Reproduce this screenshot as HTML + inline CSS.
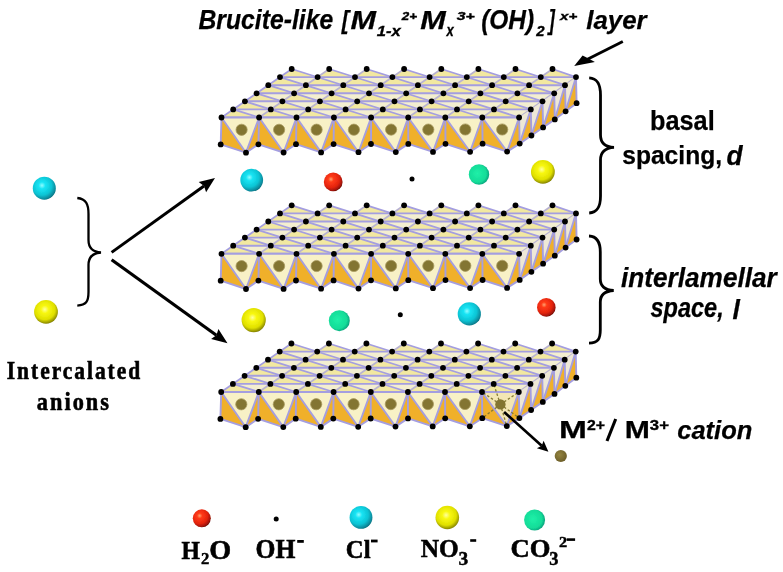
<!DOCTYPE html><html><head><meta charset="utf-8"><style>html,body{margin:0;padding:0;background:#fff;width:783px;height:572px;overflow:hidden}svg{display:block}</style></head><body><svg width="783" height="572" viewBox="0 0 783 572"><defs>
<radialGradient id="gc" cx="0.4" cy="0.38" r="0.68"><stop offset="0" stop-color="#90fcff"/><stop offset="0.22" stop-color="#18e4f4"/><stop offset="0.62" stop-color="#0cc4d4"/><stop offset="0.88" stop-color="#08889a"/><stop offset="1" stop-color="#05606c"/></radialGradient>
<radialGradient id="gr" cx="0.38" cy="0.36" r="0.68"><stop offset="0" stop-color="#ffa070"/><stop offset="0.22" stop-color="#ff3a14"/><stop offset="0.65" stop-color="#e42410"/><stop offset="0.9" stop-color="#a01408"/><stop offset="1" stop-color="#600800"/></radialGradient>
<radialGradient id="gy" cx="0.45" cy="0.4" r="0.66"><stop offset="0" stop-color="#ffffa0"/><stop offset="0.25" stop-color="#f8f810"/><stop offset="0.65" stop-color="#e0e000"/><stop offset="0.9" stop-color="#8a8800"/><stop offset="1" stop-color="#585000"/></radialGradient>
<radialGradient id="gt" cx="0.42" cy="0.45" r="0.62"><stop offset="0" stop-color="#20f0a8"/><stop offset="0.7" stop-color="#12dc98"/><stop offset="0.92" stop-color="#10a880"/><stop offset="1" stop-color="#0c8c70"/></radialGradient>
<filter id="bl" x="-5%" y="-5%" width="110%" height="110%"><feGaussianBlur stdDeviation="0.7"/></filter>
<radialGradient id="go" cx="0.4" cy="0.4" r="0.65"><stop offset="0" stop-color="#948440"/><stop offset="1" stop-color="#6a5c28"/></radialGradient>
</defs><g filter="url(#bl)"><polygon points="221.5,117.5 519.1,117.5 576.0,77.1 552.5,69.0 540.8,77.1 515.5,69.0 503.8,77.1 478.4,69.0 466.8,77.1 441.3,69.0 429.6,77.1 404.1,69.0 392.4,77.1 366.7,69.0 355.0,77.1 329.2,69.0 317.6,77.1 291.7,69.0" fill="#f2e8a0"/>
<polygon points="259.1,117.5 233.2,109.4 270.8,109.4" fill="#f3eed0"/>
<polygon points="296.5,117.5 270.8,109.4 308.2,109.4" fill="#f3eed0"/>
<polygon points="333.9,117.5 308.2,109.4 345.6,109.4" fill="#f3eed0"/>
<polygon points="371.1,117.5 345.6,109.4 382.8,109.4" fill="#f3eed0"/>
<polygon points="408.2,117.5 382.8,109.4 419.9,109.4" fill="#f3eed0"/>
<polygon points="445.3,117.5 419.9,109.4 457.0,109.4" fill="#f3eed0"/>
<polygon points="482.3,117.5 457.0,109.4 494.0,109.4" fill="#f3eed0"/>
<polygon points="519.1,117.5 494.0,109.4 530.8,109.4" fill="#f3eed0"/>
<polygon points="270.8,109.4 244.9,101.3 282.4,101.3" fill="#f3eed0"/>
<polygon points="308.2,109.4 282.4,101.3 319.9,101.3" fill="#f3eed0"/>
<polygon points="345.6,109.4 319.9,101.3 357.2,101.3" fill="#f3eed0"/>
<polygon points="382.8,109.4 357.2,101.3 394.5,101.3" fill="#f3eed0"/>
<polygon points="419.9,109.4 394.5,101.3 431.6,101.3" fill="#f3eed0"/>
<polygon points="457.0,109.4 431.6,101.3 468.7,101.3" fill="#f3eed0"/>
<polygon points="494.0,109.4 468.7,101.3 505.7,101.3" fill="#f3eed0"/>
<polygon points="530.8,109.4 505.7,101.3 542.5,101.3" fill="#f3eed0"/>
<polygon points="282.4,101.3 256.6,93.3 294.1,93.3" fill="#f3eed0"/>
<polygon points="319.9,101.3 294.1,93.3 331.6,93.3" fill="#f3eed0"/>
<polygon points="357.2,101.3 331.6,93.3 369.0,93.3" fill="#f3eed0"/>
<polygon points="394.5,101.3 369.0,93.3 406.2,93.3" fill="#f3eed0"/>
<polygon points="431.6,101.3 406.2,93.3 443.4,93.3" fill="#f3eed0"/>
<polygon points="468.7,101.3 443.4,93.3 480.4,93.3" fill="#f3eed0"/>
<polygon points="505.7,101.3 480.4,93.3 517.4,93.3" fill="#f3eed0"/>
<polygon points="542.5,101.3 517.4,93.3 554.2,93.3" fill="#f3eed0"/>
<polygon points="294.1,93.3 268.3,85.2 305.9,85.2" fill="#f3eed0"/>
<polygon points="331.6,93.3 305.9,85.2 343.3,85.2" fill="#f3eed0"/>
<polygon points="369.0,93.3 343.3,85.2 380.7,85.2" fill="#f3eed0"/>
<polygon points="406.2,93.3 380.7,85.2 417.9,85.2" fill="#f3eed0"/>
<polygon points="443.4,93.3 417.9,85.2 455.1,85.2" fill="#f3eed0"/>
<polygon points="480.4,93.3 455.1,85.2 492.1,85.2" fill="#f3eed0"/>
<polygon points="517.4,93.3 492.1,85.2 529.1,85.2" fill="#f3eed0"/>
<polygon points="554.2,93.3 529.1,85.2 565.0,85.2" fill="#f3eed0"/>
<polygon points="305.9,85.2 280.0,77.1 317.6,77.1" fill="#f3eed0"/>
<polygon points="343.3,85.2 317.6,77.1 355.0,77.1" fill="#f3eed0"/>
<polygon points="380.7,85.2 355.0,77.1 392.4,77.1" fill="#f3eed0"/>
<polygon points="417.9,85.2 392.4,77.1 429.6,77.1" fill="#f3eed0"/>
<polygon points="455.1,85.2 429.6,77.1 466.8,77.1" fill="#f3eed0"/>
<polygon points="492.1,85.2 466.8,77.1 503.8,77.1" fill="#f3eed0"/>
<polygon points="529.1,85.2 503.8,77.1 540.8,77.1" fill="#f3eed0"/>
<polygon points="565.0,85.2 540.8,77.1 576.0,77.1" fill="#f3eed0"/>
<line x1="221.5" y1="117.5" x2="291.7" y2="69.0" stroke="#a49ee0" stroke-width="1.7"/>
<line x1="259.1" y1="117.5" x2="329.2" y2="69.0" stroke="#b8b2d2" stroke-width="1.7"/>
<line x1="296.5" y1="117.5" x2="366.7" y2="69.0" stroke="#b8b2d2" stroke-width="1.7"/>
<line x1="333.9" y1="117.5" x2="404.1" y2="69.0" stroke="#b8b2d2" stroke-width="1.7"/>
<line x1="371.1" y1="117.5" x2="441.3" y2="69.0" stroke="#b8b2d2" stroke-width="1.7"/>
<line x1="408.2" y1="117.5" x2="478.4" y2="69.0" stroke="#b8b2d2" stroke-width="1.7"/>
<line x1="445.3" y1="117.5" x2="515.5" y2="69.0" stroke="#b8b2d2" stroke-width="1.7"/>
<line x1="482.3" y1="117.5" x2="552.5" y2="69.0" stroke="#b8b2d2" stroke-width="1.7"/>
<line x1="519.1" y1="117.5" x2="576.0" y2="77.1" stroke="#b8b2d2" stroke-width="1.7"/>
<line x1="233.2" y1="109.4" x2="259.1" y2="117.5" stroke="#a49ee0" stroke-width="1.8"/>
<line x1="244.9" y1="101.3" x2="296.5" y2="117.5" stroke="#a49ee0" stroke-width="1.8"/>
<line x1="256.6" y1="93.3" x2="333.9" y2="117.5" stroke="#a49ee0" stroke-width="1.8"/>
<line x1="268.3" y1="85.2" x2="371.1" y2="117.5" stroke="#a49ee0" stroke-width="1.8"/>
<line x1="280.0" y1="77.1" x2="408.2" y2="117.5" stroke="#a49ee0" stroke-width="1.8"/>
<line x1="291.7" y1="69.0" x2="445.3" y2="117.5" stroke="#a49ee0" stroke-width="1.8"/>
<line x1="329.2" y1="69.0" x2="482.3" y2="117.5" stroke="#a49ee0" stroke-width="1.8"/>
<line x1="366.7" y1="69.0" x2="519.1" y2="117.5" stroke="#a49ee0" stroke-width="1.8"/>
<line x1="404.1" y1="69.0" x2="530.8" y2="109.4" stroke="#a49ee0" stroke-width="1.8"/>
<line x1="441.3" y1="69.0" x2="542.5" y2="101.3" stroke="#a49ee0" stroke-width="1.8"/>
<line x1="478.4" y1="69.0" x2="554.2" y2="93.3" stroke="#a49ee0" stroke-width="1.8"/>
<line x1="515.5" y1="69.0" x2="565.0" y2="85.2" stroke="#a49ee0" stroke-width="1.8"/>
<line x1="552.5" y1="69.0" x2="576.0" y2="77.1" stroke="#a49ee0" stroke-width="1.8"/>
<line x1="221.5" y1="117.5" x2="519.1" y2="117.5" stroke="#a49ee0" stroke-width="1.9"/>
<line x1="233.2" y1="109.4" x2="530.8" y2="109.4" stroke="#a49ee0" stroke-width="1.9"/>
<line x1="244.9" y1="101.3" x2="542.5" y2="101.3" stroke="#a49ee0" stroke-width="1.9"/>
<line x1="256.6" y1="93.3" x2="554.2" y2="93.3" stroke="#a49ee0" stroke-width="1.9"/>
<line x1="268.3" y1="85.2" x2="565.0" y2="85.2" stroke="#a49ee0" stroke-width="1.9"/>
<line x1="280.0" y1="77.1" x2="576.0" y2="77.1" stroke="#a49ee0" stroke-width="1.9"/>
<polygon points="221.5,117.5 220.7,144.4 246.0,152.7" fill="#f0b02a"/>
<polygon points="259.1,117.5 246.0,152.7 258.4,144.3" fill="#f0b02a"/>
<polygon points="221.5,117.5 259.1,117.5 246.0,152.7" fill="#f8f1c6"/>
<circle cx="241.6" cy="129.8" r="5.6" fill="#837432" stroke="#a89a60" stroke-width="0.8"/>
<polygon points="259.1,117.5 258.4,144.3 283.6,152.5" fill="#f0b02a"/>
<polygon points="296.5,117.5 283.6,152.5 296.0,144.2" fill="#f0b02a"/>
<polygon points="259.1,117.5 296.5,117.5 283.6,152.5" fill="#f8f1c6"/>
<circle cx="279.1" cy="129.8" r="5.6" fill="#837432" stroke="#a89a60" stroke-width="0.8"/>
<polygon points="296.5,117.5 296.0,144.2 321.1,152.4" fill="#f0b02a"/>
<polygon points="333.9,117.5 321.1,152.4 333.6,144.1" fill="#f0b02a"/>
<polygon points="296.5,117.5 333.9,117.5 321.1,152.4" fill="#f8f1c6"/>
<circle cx="316.6" cy="129.7" r="5.6" fill="#837432" stroke="#a89a60" stroke-width="0.8"/>
<polygon points="333.9,117.5 333.6,144.1 358.5,152.2" fill="#f0b02a"/>
<polygon points="371.1,117.5 358.5,152.2 371.0,144.0" fill="#f0b02a"/>
<polygon points="333.9,117.5 371.1,117.5 358.5,152.2" fill="#f8f1c6"/>
<circle cx="353.9" cy="129.7" r="5.6" fill="#837432" stroke="#a89a60" stroke-width="0.8"/>
<polygon points="371.1,117.5 371.0,144.0 395.8,152.1" fill="#f0b02a"/>
<polygon points="408.2,117.5 395.8,152.1 408.3,143.9" fill="#f0b02a"/>
<polygon points="371.1,117.5 408.2,117.5 395.8,152.1" fill="#f8f1c6"/>
<circle cx="391.1" cy="129.6" r="5.6" fill="#837432" stroke="#a89a60" stroke-width="0.8"/>
<polygon points="408.2,117.5 408.3,143.9 433.0,151.9" fill="#f0b02a"/>
<polygon points="445.3,117.5 433.0,151.9 445.5,143.8" fill="#f0b02a"/>
<polygon points="408.2,117.5 445.3,117.5 433.0,151.9" fill="#f8f1c6"/>
<circle cx="428.3" cy="129.6" r="5.6" fill="#837432" stroke="#a89a60" stroke-width="0.8"/>
<polygon points="445.3,117.5 445.5,143.8 470.1,151.8" fill="#f0b02a"/>
<polygon points="482.3,117.5 470.1,151.8 482.6,143.7" fill="#f0b02a"/>
<polygon points="445.3,117.5 482.3,117.5 470.1,151.8" fill="#f8f1c6"/>
<circle cx="465.3" cy="129.5" r="5.6" fill="#837432" stroke="#a89a60" stroke-width="0.8"/>
<polygon points="482.3,117.5 482.6,143.7 507.1,151.6" fill="#f0b02a"/>
<polygon points="519.1,117.5 507.1,151.6 519.7,143.6" fill="#f0b02a"/>
<polygon points="482.3,117.5 519.1,117.5 507.1,151.6" fill="#f8f1c6"/>
<circle cx="502.2" cy="129.5" r="5.6" fill="#837432" stroke="#a89a60" stroke-width="0.8"/>
<polygon points="519.1,117.5 530.8,109.4 519.7,143.6" fill="#eee8d6"/>
<polygon points="530.8,109.4 519.7,143.6 531.4,135.5" fill="#f0b02a"/>
<polygon points="530.8,109.4 542.5,101.3 531.4,135.5" fill="#eee8d6"/>
<polygon points="542.5,101.3 531.4,135.5 543.1,127.4" fill="#f0b02a"/>
<polygon points="542.5,101.3 554.2,93.3 543.1,127.4" fill="#eee8d6"/>
<polygon points="554.2,93.3 543.1,127.4 554.8,119.4" fill="#f0b02a"/>
<polygon points="554.2,93.3 565.0,85.2 554.8,119.4" fill="#eee8d6"/>
<polygon points="565.0,85.2 554.8,119.4 565.6,111.3" fill="#f0b02a"/>
<polygon points="565.0,85.2 576.0,77.1 565.6,111.3" fill="#eee8d6"/>
<polygon points="576.0,77.1 565.6,111.3 576.6,103.2" fill="#f0b02a"/>
<line x1="221.5" y1="117.5" x2="519.1" y2="117.5" stroke="#a49ee0" stroke-width="2.0"/>
<line x1="221.5" y1="117.5" x2="220.7" y2="144.4" stroke="#a49ee0" stroke-width="1.9"/>
<line x1="259.1" y1="117.5" x2="258.4" y2="144.3" stroke="#a49ee0" stroke-width="1.9"/>
<line x1="296.5" y1="117.5" x2="296.0" y2="144.2" stroke="#a49ee0" stroke-width="1.9"/>
<line x1="333.9" y1="117.5" x2="333.6" y2="144.1" stroke="#a49ee0" stroke-width="1.9"/>
<line x1="371.1" y1="117.5" x2="371.0" y2="144.0" stroke="#a49ee0" stroke-width="1.9"/>
<line x1="408.2" y1="117.5" x2="408.3" y2="143.9" stroke="#a49ee0" stroke-width="1.9"/>
<line x1="445.3" y1="117.5" x2="445.5" y2="143.8" stroke="#a49ee0" stroke-width="1.9"/>
<line x1="482.3" y1="117.5" x2="482.6" y2="143.7" stroke="#a49ee0" stroke-width="1.9"/>
<line x1="519.1" y1="117.5" x2="519.7" y2="143.6" stroke="#a49ee0" stroke-width="1.9"/>
<line x1="221.5" y1="117.5" x2="246.0" y2="152.7" stroke="#a49ee0" stroke-width="1.9"/>
<line x1="246.0" y1="152.7" x2="259.1" y2="117.5" stroke="#a49ee0" stroke-width="1.9"/>
<line x1="220.7" y1="144.4" x2="246.0" y2="152.7" stroke="#a49ee0" stroke-width="1.9"/>
<line x1="246.0" y1="152.7" x2="258.4" y2="144.3" stroke="#a49ee0" stroke-width="1.9"/>
<line x1="259.1" y1="117.5" x2="283.6" y2="152.5" stroke="#a49ee0" stroke-width="1.9"/>
<line x1="283.6" y1="152.5" x2="296.5" y2="117.5" stroke="#a49ee0" stroke-width="1.9"/>
<line x1="258.4" y1="144.3" x2="283.6" y2="152.5" stroke="#a49ee0" stroke-width="1.9"/>
<line x1="283.6" y1="152.5" x2="296.0" y2="144.2" stroke="#a49ee0" stroke-width="1.9"/>
<line x1="296.5" y1="117.5" x2="321.1" y2="152.4" stroke="#a49ee0" stroke-width="1.9"/>
<line x1="321.1" y1="152.4" x2="333.9" y2="117.5" stroke="#a49ee0" stroke-width="1.9"/>
<line x1="296.0" y1="144.2" x2="321.1" y2="152.4" stroke="#a49ee0" stroke-width="1.9"/>
<line x1="321.1" y1="152.4" x2="333.6" y2="144.1" stroke="#a49ee0" stroke-width="1.9"/>
<line x1="333.9" y1="117.5" x2="358.5" y2="152.2" stroke="#a49ee0" stroke-width="1.9"/>
<line x1="358.5" y1="152.2" x2="371.1" y2="117.5" stroke="#a49ee0" stroke-width="1.9"/>
<line x1="333.6" y1="144.1" x2="358.5" y2="152.2" stroke="#a49ee0" stroke-width="1.9"/>
<line x1="358.5" y1="152.2" x2="371.0" y2="144.0" stroke="#a49ee0" stroke-width="1.9"/>
<line x1="371.1" y1="117.5" x2="395.8" y2="152.1" stroke="#a49ee0" stroke-width="1.9"/>
<line x1="395.8" y1="152.1" x2="408.2" y2="117.5" stroke="#a49ee0" stroke-width="1.9"/>
<line x1="371.0" y1="144.0" x2="395.8" y2="152.1" stroke="#a49ee0" stroke-width="1.9"/>
<line x1="395.8" y1="152.1" x2="408.3" y2="143.9" stroke="#a49ee0" stroke-width="1.9"/>
<line x1="408.2" y1="117.5" x2="433.0" y2="151.9" stroke="#a49ee0" stroke-width="1.9"/>
<line x1="433.0" y1="151.9" x2="445.3" y2="117.5" stroke="#a49ee0" stroke-width="1.9"/>
<line x1="408.3" y1="143.9" x2="433.0" y2="151.9" stroke="#a49ee0" stroke-width="1.9"/>
<line x1="433.0" y1="151.9" x2="445.5" y2="143.8" stroke="#a49ee0" stroke-width="1.9"/>
<line x1="445.3" y1="117.5" x2="470.1" y2="151.8" stroke="#a49ee0" stroke-width="1.9"/>
<line x1="470.1" y1="151.8" x2="482.3" y2="117.5" stroke="#a49ee0" stroke-width="1.9"/>
<line x1="445.5" y1="143.8" x2="470.1" y2="151.8" stroke="#a49ee0" stroke-width="1.9"/>
<line x1="470.1" y1="151.8" x2="482.6" y2="143.7" stroke="#a49ee0" stroke-width="1.9"/>
<line x1="482.3" y1="117.5" x2="507.1" y2="151.6" stroke="#a49ee0" stroke-width="1.9"/>
<line x1="507.1" y1="151.6" x2="519.1" y2="117.5" stroke="#a49ee0" stroke-width="1.9"/>
<line x1="482.6" y1="143.7" x2="507.1" y2="151.6" stroke="#a49ee0" stroke-width="1.9"/>
<line x1="507.1" y1="151.6" x2="519.7" y2="143.6" stroke="#a49ee0" stroke-width="1.9"/>
<line x1="530.8" y1="109.4" x2="519.7" y2="143.6" stroke="#a49ee0" stroke-width="1.9"/>
<line x1="519.7" y1="143.6" x2="531.4" y2="135.5" stroke="#a49ee0" stroke-width="1.9"/>
<line x1="530.8" y1="109.4" x2="531.4" y2="135.5" stroke="#a49ee0" stroke-width="1.9"/>
<line x1="542.5" y1="101.3" x2="531.4" y2="135.5" stroke="#a49ee0" stroke-width="1.9"/>
<line x1="531.4" y1="135.5" x2="543.1" y2="127.4" stroke="#a49ee0" stroke-width="1.9"/>
<line x1="542.5" y1="101.3" x2="543.1" y2="127.4" stroke="#a49ee0" stroke-width="1.9"/>
<line x1="554.2" y1="93.3" x2="543.1" y2="127.4" stroke="#a49ee0" stroke-width="1.9"/>
<line x1="543.1" y1="127.4" x2="554.8" y2="119.4" stroke="#a49ee0" stroke-width="1.9"/>
<line x1="554.2" y1="93.3" x2="554.8" y2="119.4" stroke="#a49ee0" stroke-width="1.9"/>
<line x1="565.0" y1="85.2" x2="554.8" y2="119.4" stroke="#a49ee0" stroke-width="1.9"/>
<line x1="554.8" y1="119.4" x2="565.6" y2="111.3" stroke="#a49ee0" stroke-width="1.9"/>
<line x1="565.0" y1="85.2" x2="565.6" y2="111.3" stroke="#a49ee0" stroke-width="1.9"/>
<line x1="576.0" y1="77.1" x2="565.6" y2="111.3" stroke="#a49ee0" stroke-width="1.9"/>
<line x1="565.6" y1="111.3" x2="576.6" y2="103.2" stroke="#a49ee0" stroke-width="1.9"/>
<line x1="576.0" y1="77.1" x2="576.6" y2="103.2" stroke="#a49ee0" stroke-width="1.9"/>
<circle cx="221.5" cy="117.5" r="2.9" fill="#000"/>
<circle cx="259.1" cy="117.5" r="2.9" fill="#000"/>
<circle cx="296.5" cy="117.5" r="2.9" fill="#000"/>
<circle cx="333.9" cy="117.5" r="2.9" fill="#000"/>
<circle cx="371.1" cy="117.5" r="2.9" fill="#000"/>
<circle cx="408.2" cy="117.5" r="2.9" fill="#000"/>
<circle cx="445.3" cy="117.5" r="2.9" fill="#000"/>
<circle cx="482.3" cy="117.5" r="2.9" fill="#000"/>
<circle cx="519.1" cy="117.5" r="2.9" fill="#000"/>
<circle cx="233.2" cy="109.4" r="2.9" fill="#000"/>
<circle cx="270.8" cy="109.4" r="2.9" fill="#000"/>
<circle cx="308.2" cy="109.4" r="2.9" fill="#000"/>
<circle cx="345.6" cy="109.4" r="2.9" fill="#000"/>
<circle cx="382.8" cy="109.4" r="2.9" fill="#000"/>
<circle cx="419.9" cy="109.4" r="2.9" fill="#000"/>
<circle cx="457.0" cy="109.4" r="2.9" fill="#000"/>
<circle cx="494.0" cy="109.4" r="2.9" fill="#000"/>
<circle cx="530.8" cy="109.4" r="2.9" fill="#000"/>
<circle cx="244.9" cy="101.3" r="2.9" fill="#000"/>
<circle cx="282.4" cy="101.3" r="2.9" fill="#000"/>
<circle cx="319.9" cy="101.3" r="2.9" fill="#000"/>
<circle cx="357.2" cy="101.3" r="2.9" fill="#000"/>
<circle cx="394.5" cy="101.3" r="2.9" fill="#000"/>
<circle cx="431.6" cy="101.3" r="2.9" fill="#000"/>
<circle cx="468.7" cy="101.3" r="2.9" fill="#000"/>
<circle cx="505.7" cy="101.3" r="2.9" fill="#000"/>
<circle cx="542.5" cy="101.3" r="2.9" fill="#000"/>
<circle cx="256.6" cy="93.3" r="2.9" fill="#000"/>
<circle cx="294.1" cy="93.3" r="2.9" fill="#000"/>
<circle cx="331.6" cy="93.3" r="2.9" fill="#000"/>
<circle cx="369.0" cy="93.3" r="2.9" fill="#000"/>
<circle cx="406.2" cy="93.3" r="2.9" fill="#000"/>
<circle cx="443.4" cy="93.3" r="2.9" fill="#000"/>
<circle cx="480.4" cy="93.3" r="2.9" fill="#000"/>
<circle cx="517.4" cy="93.3" r="2.9" fill="#000"/>
<circle cx="554.2" cy="93.3" r="2.9" fill="#000"/>
<circle cx="268.3" cy="85.2" r="2.9" fill="#000"/>
<circle cx="305.9" cy="85.2" r="2.9" fill="#000"/>
<circle cx="343.3" cy="85.2" r="2.9" fill="#000"/>
<circle cx="380.7" cy="85.2" r="2.9" fill="#000"/>
<circle cx="417.9" cy="85.2" r="2.9" fill="#000"/>
<circle cx="455.1" cy="85.2" r="2.9" fill="#000"/>
<circle cx="492.1" cy="85.2" r="2.9" fill="#000"/>
<circle cx="529.1" cy="85.2" r="2.9" fill="#000"/>
<circle cx="565.0" cy="85.2" r="2.9" fill="#000"/>
<circle cx="280.0" cy="77.1" r="2.9" fill="#000"/>
<circle cx="317.6" cy="77.1" r="2.9" fill="#000"/>
<circle cx="355.0" cy="77.1" r="2.9" fill="#000"/>
<circle cx="392.4" cy="77.1" r="2.9" fill="#000"/>
<circle cx="429.6" cy="77.1" r="2.9" fill="#000"/>
<circle cx="466.8" cy="77.1" r="2.9" fill="#000"/>
<circle cx="503.8" cy="77.1" r="2.9" fill="#000"/>
<circle cx="540.8" cy="77.1" r="2.9" fill="#000"/>
<circle cx="576.0" cy="77.1" r="2.9" fill="#000"/>
<circle cx="291.7" cy="69.0" r="2.9" fill="#000"/>
<circle cx="329.2" cy="69.0" r="2.9" fill="#000"/>
<circle cx="366.7" cy="69.0" r="2.9" fill="#000"/>
<circle cx="404.1" cy="69.0" r="2.9" fill="#000"/>
<circle cx="441.3" cy="69.0" r="2.9" fill="#000"/>
<circle cx="478.4" cy="69.0" r="2.9" fill="#000"/>
<circle cx="515.5" cy="69.0" r="2.9" fill="#000"/>
<circle cx="552.5" cy="69.0" r="2.9" fill="#000"/>
<circle cx="220.7" cy="144.4" r="2.9" fill="#000"/>
<circle cx="258.4" cy="144.3" r="2.9" fill="#000"/>
<circle cx="296.0" cy="144.2" r="2.9" fill="#000"/>
<circle cx="333.6" cy="144.1" r="2.9" fill="#000"/>
<circle cx="371.0" cy="144.0" r="2.9" fill="#000"/>
<circle cx="408.3" cy="143.9" r="2.9" fill="#000"/>
<circle cx="445.5" cy="143.8" r="2.9" fill="#000"/>
<circle cx="482.6" cy="143.7" r="2.9" fill="#000"/>
<circle cx="519.7" cy="143.6" r="2.9" fill="#000"/>
<circle cx="246.0" cy="152.7" r="2.9" fill="#000"/>
<circle cx="283.6" cy="152.5" r="2.9" fill="#000"/>
<circle cx="321.1" cy="152.4" r="2.9" fill="#000"/>
<circle cx="358.5" cy="152.2" r="2.9" fill="#000"/>
<circle cx="395.8" cy="152.1" r="2.9" fill="#000"/>
<circle cx="433.0" cy="151.9" r="2.9" fill="#000"/>
<circle cx="470.1" cy="151.8" r="2.9" fill="#000"/>
<circle cx="507.1" cy="151.6" r="2.9" fill="#000"/>
<circle cx="531.4" cy="135.5" r="2.9" fill="#000"/>
<circle cx="543.1" cy="127.4" r="2.9" fill="#000"/>
<circle cx="554.8" cy="119.4" r="2.9" fill="#000"/>
<circle cx="565.6" cy="111.3" r="2.9" fill="#000"/>
<circle cx="576.6" cy="103.2" r="2.9" fill="#000"/>
<polygon points="221.5,253.8 519.1,253.8 576.0,213.4 552.5,205.3 540.8,213.4 515.5,205.3 503.8,213.4 478.4,205.3 466.8,213.4 441.3,205.3 429.6,213.4 404.1,205.3 392.4,213.4 366.7,205.3 355.0,213.4 329.2,205.3 317.6,213.4 291.7,205.3" fill="#f2e8a0"/>
<polygon points="259.1,253.8 233.2,245.7 270.8,245.7" fill="#f3eed0"/>
<polygon points="296.5,253.8 270.8,245.7 308.2,245.7" fill="#f3eed0"/>
<polygon points="333.9,253.8 308.2,245.7 345.6,245.7" fill="#f3eed0"/>
<polygon points="371.1,253.8 345.6,245.7 382.8,245.7" fill="#f3eed0"/>
<polygon points="408.2,253.8 382.8,245.7 419.9,245.7" fill="#f3eed0"/>
<polygon points="445.3,253.8 419.9,245.7 457.0,245.7" fill="#f3eed0"/>
<polygon points="482.3,253.8 457.0,245.7 494.0,245.7" fill="#f3eed0"/>
<polygon points="519.1,253.8 494.0,245.7 530.8,245.7" fill="#f3eed0"/>
<polygon points="270.8,245.7 244.9,237.6 282.4,237.6" fill="#f3eed0"/>
<polygon points="308.2,245.7 282.4,237.6 319.9,237.6" fill="#f3eed0"/>
<polygon points="345.6,245.7 319.9,237.6 357.2,237.6" fill="#f3eed0"/>
<polygon points="382.8,245.7 357.2,237.6 394.5,237.6" fill="#f3eed0"/>
<polygon points="419.9,245.7 394.5,237.6 431.6,237.6" fill="#f3eed0"/>
<polygon points="457.0,245.7 431.6,237.6 468.7,237.6" fill="#f3eed0"/>
<polygon points="494.0,245.7 468.7,237.6 505.7,237.6" fill="#f3eed0"/>
<polygon points="530.8,245.7 505.7,237.6 542.5,237.6" fill="#f3eed0"/>
<polygon points="282.4,237.6 256.6,229.6 294.1,229.6" fill="#f3eed0"/>
<polygon points="319.9,237.6 294.1,229.6 331.6,229.6" fill="#f3eed0"/>
<polygon points="357.2,237.6 331.6,229.6 369.0,229.6" fill="#f3eed0"/>
<polygon points="394.5,237.6 369.0,229.6 406.2,229.6" fill="#f3eed0"/>
<polygon points="431.6,237.6 406.2,229.6 443.4,229.6" fill="#f3eed0"/>
<polygon points="468.7,237.6 443.4,229.6 480.4,229.6" fill="#f3eed0"/>
<polygon points="505.7,237.6 480.4,229.6 517.4,229.6" fill="#f3eed0"/>
<polygon points="542.5,237.6 517.4,229.6 554.2,229.6" fill="#f3eed0"/>
<polygon points="294.1,229.6 268.3,221.5 305.9,221.5" fill="#f3eed0"/>
<polygon points="331.6,229.6 305.9,221.5 343.3,221.5" fill="#f3eed0"/>
<polygon points="369.0,229.6 343.3,221.5 380.7,221.5" fill="#f3eed0"/>
<polygon points="406.2,229.6 380.7,221.5 417.9,221.5" fill="#f3eed0"/>
<polygon points="443.4,229.6 417.9,221.5 455.1,221.5" fill="#f3eed0"/>
<polygon points="480.4,229.6 455.1,221.5 492.1,221.5" fill="#f3eed0"/>
<polygon points="517.4,229.6 492.1,221.5 529.1,221.5" fill="#f3eed0"/>
<polygon points="554.2,229.6 529.1,221.5 565.0,221.5" fill="#f3eed0"/>
<polygon points="305.9,221.5 280.0,213.4 317.6,213.4" fill="#f3eed0"/>
<polygon points="343.3,221.5 317.6,213.4 355.0,213.4" fill="#f3eed0"/>
<polygon points="380.7,221.5 355.0,213.4 392.4,213.4" fill="#f3eed0"/>
<polygon points="417.9,221.5 392.4,213.4 429.6,213.4" fill="#f3eed0"/>
<polygon points="455.1,221.5 429.6,213.4 466.8,213.4" fill="#f3eed0"/>
<polygon points="492.1,221.5 466.8,213.4 503.8,213.4" fill="#f3eed0"/>
<polygon points="529.1,221.5 503.8,213.4 540.8,213.4" fill="#f3eed0"/>
<polygon points="565.0,221.5 540.8,213.4 576.0,213.4" fill="#f3eed0"/>
<line x1="221.5" y1="253.8" x2="291.7" y2="205.3" stroke="#a49ee0" stroke-width="1.7"/>
<line x1="259.1" y1="253.8" x2="329.2" y2="205.3" stroke="#b8b2d2" stroke-width="1.7"/>
<line x1="296.5" y1="253.8" x2="366.7" y2="205.3" stroke="#b8b2d2" stroke-width="1.7"/>
<line x1="333.9" y1="253.8" x2="404.1" y2="205.3" stroke="#b8b2d2" stroke-width="1.7"/>
<line x1="371.1" y1="253.8" x2="441.3" y2="205.3" stroke="#b8b2d2" stroke-width="1.7"/>
<line x1="408.2" y1="253.8" x2="478.4" y2="205.3" stroke="#b8b2d2" stroke-width="1.7"/>
<line x1="445.3" y1="253.8" x2="515.5" y2="205.3" stroke="#b8b2d2" stroke-width="1.7"/>
<line x1="482.3" y1="253.8" x2="552.5" y2="205.3" stroke="#b8b2d2" stroke-width="1.7"/>
<line x1="519.1" y1="253.8" x2="576.0" y2="213.4" stroke="#b8b2d2" stroke-width="1.7"/>
<line x1="233.2" y1="245.7" x2="259.1" y2="253.8" stroke="#a49ee0" stroke-width="1.8"/>
<line x1="244.9" y1="237.6" x2="296.5" y2="253.8" stroke="#a49ee0" stroke-width="1.8"/>
<line x1="256.6" y1="229.6" x2="333.9" y2="253.8" stroke="#a49ee0" stroke-width="1.8"/>
<line x1="268.3" y1="221.5" x2="371.1" y2="253.8" stroke="#a49ee0" stroke-width="1.8"/>
<line x1="280.0" y1="213.4" x2="408.2" y2="253.8" stroke="#a49ee0" stroke-width="1.8"/>
<line x1="291.7" y1="205.3" x2="445.3" y2="253.8" stroke="#a49ee0" stroke-width="1.8"/>
<line x1="329.2" y1="205.3" x2="482.3" y2="253.8" stroke="#a49ee0" stroke-width="1.8"/>
<line x1="366.7" y1="205.3" x2="519.1" y2="253.8" stroke="#a49ee0" stroke-width="1.8"/>
<line x1="404.1" y1="205.3" x2="530.8" y2="245.7" stroke="#a49ee0" stroke-width="1.8"/>
<line x1="441.3" y1="205.3" x2="542.5" y2="237.6" stroke="#a49ee0" stroke-width="1.8"/>
<line x1="478.4" y1="205.3" x2="554.2" y2="229.6" stroke="#a49ee0" stroke-width="1.8"/>
<line x1="515.5" y1="205.3" x2="565.0" y2="221.5" stroke="#a49ee0" stroke-width="1.8"/>
<line x1="552.5" y1="205.3" x2="576.0" y2="213.4" stroke="#a49ee0" stroke-width="1.8"/>
<line x1="221.5" y1="253.8" x2="519.1" y2="253.8" stroke="#a49ee0" stroke-width="1.9"/>
<line x1="233.2" y1="245.7" x2="530.8" y2="245.7" stroke="#a49ee0" stroke-width="1.9"/>
<line x1="244.9" y1="237.6" x2="542.5" y2="237.6" stroke="#a49ee0" stroke-width="1.9"/>
<line x1="256.6" y1="229.6" x2="554.2" y2="229.6" stroke="#a49ee0" stroke-width="1.9"/>
<line x1="268.3" y1="221.5" x2="565.0" y2="221.5" stroke="#a49ee0" stroke-width="1.9"/>
<line x1="280.0" y1="213.4" x2="576.0" y2="213.4" stroke="#a49ee0" stroke-width="1.9"/>
<polygon points="221.5,253.8 220.7,280.7 246.0,289.0" fill="#f0b02a"/>
<polygon points="259.1,253.8 246.0,289.0 258.4,280.6" fill="#f0b02a"/>
<polygon points="221.5,253.8 259.1,253.8 246.0,289.0" fill="#f8f1c6"/>
<circle cx="241.6" cy="266.1" r="5.6" fill="#837432" stroke="#a89a60" stroke-width="0.8"/>
<polygon points="259.1,253.8 258.4,280.6 283.6,288.9" fill="#f0b02a"/>
<polygon points="296.5,253.8 283.6,288.9 296.0,280.5" fill="#f0b02a"/>
<polygon points="259.1,253.8 296.5,253.8 283.6,288.9" fill="#f8f1c6"/>
<circle cx="279.1" cy="266.1" r="5.6" fill="#837432" stroke="#a89a60" stroke-width="0.8"/>
<polygon points="296.5,253.8 296.0,280.5 321.1,288.7" fill="#f0b02a"/>
<polygon points="333.9,253.8 321.1,288.7 333.6,280.4" fill="#f0b02a"/>
<polygon points="296.5,253.8 333.9,253.8 321.1,288.7" fill="#f8f1c6"/>
<circle cx="316.6" cy="266.0" r="5.6" fill="#837432" stroke="#a89a60" stroke-width="0.8"/>
<polygon points="333.9,253.8 333.6,280.4 358.5,288.6" fill="#f0b02a"/>
<polygon points="371.1,253.8 358.5,288.6 371.0,280.3" fill="#f0b02a"/>
<polygon points="333.9,253.8 371.1,253.8 358.5,288.6" fill="#f8f1c6"/>
<circle cx="353.9" cy="266.0" r="5.6" fill="#837432" stroke="#a89a60" stroke-width="0.8"/>
<polygon points="371.1,253.8 371.0,280.3 395.8,288.4" fill="#f0b02a"/>
<polygon points="408.2,253.8 395.8,288.4 408.3,280.2" fill="#f0b02a"/>
<polygon points="371.1,253.8 408.2,253.8 395.8,288.4" fill="#f8f1c6"/>
<circle cx="391.1" cy="265.9" r="5.6" fill="#837432" stroke="#a89a60" stroke-width="0.8"/>
<polygon points="408.2,253.8 408.3,280.2 433.0,288.2" fill="#f0b02a"/>
<polygon points="445.3,253.8 433.0,288.2 445.5,280.1" fill="#f0b02a"/>
<polygon points="408.2,253.8 445.3,253.8 433.0,288.2" fill="#f8f1c6"/>
<circle cx="428.3" cy="265.9" r="5.6" fill="#837432" stroke="#a89a60" stroke-width="0.8"/>
<polygon points="445.3,253.8 445.5,280.1 470.1,288.1" fill="#f0b02a"/>
<polygon points="482.3,253.8 470.1,288.1 482.6,280.0" fill="#f0b02a"/>
<polygon points="445.3,253.8 482.3,253.8 470.1,288.1" fill="#f8f1c6"/>
<circle cx="465.3" cy="265.8" r="5.6" fill="#837432" stroke="#a89a60" stroke-width="0.8"/>
<polygon points="482.3,253.8 482.6,280.0 507.1,287.9" fill="#f0b02a"/>
<polygon points="519.1,253.8 507.1,287.9 519.7,279.9" fill="#f0b02a"/>
<polygon points="482.3,253.8 519.1,253.8 507.1,287.9" fill="#f8f1c6"/>
<circle cx="502.2" cy="265.8" r="5.6" fill="#837432" stroke="#a89a60" stroke-width="0.8"/>
<polygon points="519.1,253.8 530.8,245.7 519.7,279.9" fill="#eee8d6"/>
<polygon points="530.8,245.7 519.7,279.9 531.4,271.8" fill="#f0b02a"/>
<polygon points="530.8,245.7 542.5,237.6 531.4,271.8" fill="#eee8d6"/>
<polygon points="542.5,237.6 531.4,271.8 543.1,263.7" fill="#f0b02a"/>
<polygon points="542.5,237.6 554.2,229.6 543.1,263.7" fill="#eee8d6"/>
<polygon points="554.2,229.6 543.1,263.7 554.8,255.7" fill="#f0b02a"/>
<polygon points="554.2,229.6 565.0,221.5 554.8,255.7" fill="#eee8d6"/>
<polygon points="565.0,221.5 554.8,255.7 565.6,247.6" fill="#f0b02a"/>
<polygon points="565.0,221.5 576.0,213.4 565.6,247.6" fill="#eee8d6"/>
<polygon points="576.0,213.4 565.6,247.6 576.6,239.5" fill="#f0b02a"/>
<line x1="221.5" y1="253.8" x2="519.1" y2="253.8" stroke="#a49ee0" stroke-width="2.0"/>
<line x1="221.5" y1="253.8" x2="220.7" y2="280.7" stroke="#a49ee0" stroke-width="1.9"/>
<line x1="259.1" y1="253.8" x2="258.4" y2="280.6" stroke="#a49ee0" stroke-width="1.9"/>
<line x1="296.5" y1="253.8" x2="296.0" y2="280.5" stroke="#a49ee0" stroke-width="1.9"/>
<line x1="333.9" y1="253.8" x2="333.6" y2="280.4" stroke="#a49ee0" stroke-width="1.9"/>
<line x1="371.1" y1="253.8" x2="371.0" y2="280.3" stroke="#a49ee0" stroke-width="1.9"/>
<line x1="408.2" y1="253.8" x2="408.3" y2="280.2" stroke="#a49ee0" stroke-width="1.9"/>
<line x1="445.3" y1="253.8" x2="445.5" y2="280.1" stroke="#a49ee0" stroke-width="1.9"/>
<line x1="482.3" y1="253.8" x2="482.6" y2="280.0" stroke="#a49ee0" stroke-width="1.9"/>
<line x1="519.1" y1="253.8" x2="519.7" y2="279.9" stroke="#a49ee0" stroke-width="1.9"/>
<line x1="221.5" y1="253.8" x2="246.0" y2="289.0" stroke="#a49ee0" stroke-width="1.9"/>
<line x1="246.0" y1="289.0" x2="259.1" y2="253.8" stroke="#a49ee0" stroke-width="1.9"/>
<line x1="220.7" y1="280.7" x2="246.0" y2="289.0" stroke="#a49ee0" stroke-width="1.9"/>
<line x1="246.0" y1="289.0" x2="258.4" y2="280.6" stroke="#a49ee0" stroke-width="1.9"/>
<line x1="259.1" y1="253.8" x2="283.6" y2="288.9" stroke="#a49ee0" stroke-width="1.9"/>
<line x1="283.6" y1="288.9" x2="296.5" y2="253.8" stroke="#a49ee0" stroke-width="1.9"/>
<line x1="258.4" y1="280.6" x2="283.6" y2="288.9" stroke="#a49ee0" stroke-width="1.9"/>
<line x1="283.6" y1="288.9" x2="296.0" y2="280.5" stroke="#a49ee0" stroke-width="1.9"/>
<line x1="296.5" y1="253.8" x2="321.1" y2="288.7" stroke="#a49ee0" stroke-width="1.9"/>
<line x1="321.1" y1="288.7" x2="333.9" y2="253.8" stroke="#a49ee0" stroke-width="1.9"/>
<line x1="296.0" y1="280.5" x2="321.1" y2="288.7" stroke="#a49ee0" stroke-width="1.9"/>
<line x1="321.1" y1="288.7" x2="333.6" y2="280.4" stroke="#a49ee0" stroke-width="1.9"/>
<line x1="333.9" y1="253.8" x2="358.5" y2="288.6" stroke="#a49ee0" stroke-width="1.9"/>
<line x1="358.5" y1="288.6" x2="371.1" y2="253.8" stroke="#a49ee0" stroke-width="1.9"/>
<line x1="333.6" y1="280.4" x2="358.5" y2="288.6" stroke="#a49ee0" stroke-width="1.9"/>
<line x1="358.5" y1="288.6" x2="371.0" y2="280.3" stroke="#a49ee0" stroke-width="1.9"/>
<line x1="371.1" y1="253.8" x2="395.8" y2="288.4" stroke="#a49ee0" stroke-width="1.9"/>
<line x1="395.8" y1="288.4" x2="408.2" y2="253.8" stroke="#a49ee0" stroke-width="1.9"/>
<line x1="371.0" y1="280.3" x2="395.8" y2="288.4" stroke="#a49ee0" stroke-width="1.9"/>
<line x1="395.8" y1="288.4" x2="408.3" y2="280.2" stroke="#a49ee0" stroke-width="1.9"/>
<line x1="408.2" y1="253.8" x2="433.0" y2="288.2" stroke="#a49ee0" stroke-width="1.9"/>
<line x1="433.0" y1="288.2" x2="445.3" y2="253.8" stroke="#a49ee0" stroke-width="1.9"/>
<line x1="408.3" y1="280.2" x2="433.0" y2="288.2" stroke="#a49ee0" stroke-width="1.9"/>
<line x1="433.0" y1="288.2" x2="445.5" y2="280.1" stroke="#a49ee0" stroke-width="1.9"/>
<line x1="445.3" y1="253.8" x2="470.1" y2="288.1" stroke="#a49ee0" stroke-width="1.9"/>
<line x1="470.1" y1="288.1" x2="482.3" y2="253.8" stroke="#a49ee0" stroke-width="1.9"/>
<line x1="445.5" y1="280.1" x2="470.1" y2="288.1" stroke="#a49ee0" stroke-width="1.9"/>
<line x1="470.1" y1="288.1" x2="482.6" y2="280.0" stroke="#a49ee0" stroke-width="1.9"/>
<line x1="482.3" y1="253.8" x2="507.1" y2="287.9" stroke="#a49ee0" stroke-width="1.9"/>
<line x1="507.1" y1="287.9" x2="519.1" y2="253.8" stroke="#a49ee0" stroke-width="1.9"/>
<line x1="482.6" y1="280.0" x2="507.1" y2="287.9" stroke="#a49ee0" stroke-width="1.9"/>
<line x1="507.1" y1="287.9" x2="519.7" y2="279.9" stroke="#a49ee0" stroke-width="1.9"/>
<line x1="530.8" y1="245.7" x2="519.7" y2="279.9" stroke="#a49ee0" stroke-width="1.9"/>
<line x1="519.7" y1="279.9" x2="531.4" y2="271.8" stroke="#a49ee0" stroke-width="1.9"/>
<line x1="530.8" y1="245.7" x2="531.4" y2="271.8" stroke="#a49ee0" stroke-width="1.9"/>
<line x1="542.5" y1="237.6" x2="531.4" y2="271.8" stroke="#a49ee0" stroke-width="1.9"/>
<line x1="531.4" y1="271.8" x2="543.1" y2="263.7" stroke="#a49ee0" stroke-width="1.9"/>
<line x1="542.5" y1="237.6" x2="543.1" y2="263.7" stroke="#a49ee0" stroke-width="1.9"/>
<line x1="554.2" y1="229.6" x2="543.1" y2="263.7" stroke="#a49ee0" stroke-width="1.9"/>
<line x1="543.1" y1="263.7" x2="554.8" y2="255.7" stroke="#a49ee0" stroke-width="1.9"/>
<line x1="554.2" y1="229.6" x2="554.8" y2="255.7" stroke="#a49ee0" stroke-width="1.9"/>
<line x1="565.0" y1="221.5" x2="554.8" y2="255.7" stroke="#a49ee0" stroke-width="1.9"/>
<line x1="554.8" y1="255.7" x2="565.6" y2="247.6" stroke="#a49ee0" stroke-width="1.9"/>
<line x1="565.0" y1="221.5" x2="565.6" y2="247.6" stroke="#a49ee0" stroke-width="1.9"/>
<line x1="576.0" y1="213.4" x2="565.6" y2="247.6" stroke="#a49ee0" stroke-width="1.9"/>
<line x1="565.6" y1="247.6" x2="576.6" y2="239.5" stroke="#a49ee0" stroke-width="1.9"/>
<line x1="576.0" y1="213.4" x2="576.6" y2="239.5" stroke="#a49ee0" stroke-width="1.9"/>
<circle cx="221.5" cy="253.8" r="2.9" fill="#000"/>
<circle cx="259.1" cy="253.8" r="2.9" fill="#000"/>
<circle cx="296.5" cy="253.8" r="2.9" fill="#000"/>
<circle cx="333.9" cy="253.8" r="2.9" fill="#000"/>
<circle cx="371.1" cy="253.8" r="2.9" fill="#000"/>
<circle cx="408.2" cy="253.8" r="2.9" fill="#000"/>
<circle cx="445.3" cy="253.8" r="2.9" fill="#000"/>
<circle cx="482.3" cy="253.8" r="2.9" fill="#000"/>
<circle cx="519.1" cy="253.8" r="2.9" fill="#000"/>
<circle cx="233.2" cy="245.7" r="2.9" fill="#000"/>
<circle cx="270.8" cy="245.7" r="2.9" fill="#000"/>
<circle cx="308.2" cy="245.7" r="2.9" fill="#000"/>
<circle cx="345.6" cy="245.7" r="2.9" fill="#000"/>
<circle cx="382.8" cy="245.7" r="2.9" fill="#000"/>
<circle cx="419.9" cy="245.7" r="2.9" fill="#000"/>
<circle cx="457.0" cy="245.7" r="2.9" fill="#000"/>
<circle cx="494.0" cy="245.7" r="2.9" fill="#000"/>
<circle cx="530.8" cy="245.7" r="2.9" fill="#000"/>
<circle cx="244.9" cy="237.6" r="2.9" fill="#000"/>
<circle cx="282.4" cy="237.6" r="2.9" fill="#000"/>
<circle cx="319.9" cy="237.6" r="2.9" fill="#000"/>
<circle cx="357.2" cy="237.6" r="2.9" fill="#000"/>
<circle cx="394.5" cy="237.6" r="2.9" fill="#000"/>
<circle cx="431.6" cy="237.6" r="2.9" fill="#000"/>
<circle cx="468.7" cy="237.6" r="2.9" fill="#000"/>
<circle cx="505.7" cy="237.6" r="2.9" fill="#000"/>
<circle cx="542.5" cy="237.6" r="2.9" fill="#000"/>
<circle cx="256.6" cy="229.6" r="2.9" fill="#000"/>
<circle cx="294.1" cy="229.6" r="2.9" fill="#000"/>
<circle cx="331.6" cy="229.6" r="2.9" fill="#000"/>
<circle cx="369.0" cy="229.6" r="2.9" fill="#000"/>
<circle cx="406.2" cy="229.6" r="2.9" fill="#000"/>
<circle cx="443.4" cy="229.6" r="2.9" fill="#000"/>
<circle cx="480.4" cy="229.6" r="2.9" fill="#000"/>
<circle cx="517.4" cy="229.6" r="2.9" fill="#000"/>
<circle cx="554.2" cy="229.6" r="2.9" fill="#000"/>
<circle cx="268.3" cy="221.5" r="2.9" fill="#000"/>
<circle cx="305.9" cy="221.5" r="2.9" fill="#000"/>
<circle cx="343.3" cy="221.5" r="2.9" fill="#000"/>
<circle cx="380.7" cy="221.5" r="2.9" fill="#000"/>
<circle cx="417.9" cy="221.5" r="2.9" fill="#000"/>
<circle cx="455.1" cy="221.5" r="2.9" fill="#000"/>
<circle cx="492.1" cy="221.5" r="2.9" fill="#000"/>
<circle cx="529.1" cy="221.5" r="2.9" fill="#000"/>
<circle cx="565.0" cy="221.5" r="2.9" fill="#000"/>
<circle cx="280.0" cy="213.4" r="2.9" fill="#000"/>
<circle cx="317.6" cy="213.4" r="2.9" fill="#000"/>
<circle cx="355.0" cy="213.4" r="2.9" fill="#000"/>
<circle cx="392.4" cy="213.4" r="2.9" fill="#000"/>
<circle cx="429.6" cy="213.4" r="2.9" fill="#000"/>
<circle cx="466.8" cy="213.4" r="2.9" fill="#000"/>
<circle cx="503.8" cy="213.4" r="2.9" fill="#000"/>
<circle cx="540.8" cy="213.4" r="2.9" fill="#000"/>
<circle cx="576.0" cy="213.4" r="2.9" fill="#000"/>
<circle cx="291.7" cy="205.3" r="2.9" fill="#000"/>
<circle cx="329.2" cy="205.3" r="2.9" fill="#000"/>
<circle cx="366.7" cy="205.3" r="2.9" fill="#000"/>
<circle cx="404.1" cy="205.3" r="2.9" fill="#000"/>
<circle cx="441.3" cy="205.3" r="2.9" fill="#000"/>
<circle cx="478.4" cy="205.3" r="2.9" fill="#000"/>
<circle cx="515.5" cy="205.3" r="2.9" fill="#000"/>
<circle cx="552.5" cy="205.3" r="2.9" fill="#000"/>
<circle cx="220.7" cy="280.7" r="2.9" fill="#000"/>
<circle cx="258.4" cy="280.6" r="2.9" fill="#000"/>
<circle cx="296.0" cy="280.5" r="2.9" fill="#000"/>
<circle cx="333.6" cy="280.4" r="2.9" fill="#000"/>
<circle cx="371.0" cy="280.3" r="2.9" fill="#000"/>
<circle cx="408.3" cy="280.2" r="2.9" fill="#000"/>
<circle cx="445.5" cy="280.1" r="2.9" fill="#000"/>
<circle cx="482.6" cy="280.0" r="2.9" fill="#000"/>
<circle cx="519.7" cy="279.9" r="2.9" fill="#000"/>
<circle cx="246.0" cy="289.0" r="2.9" fill="#000"/>
<circle cx="283.6" cy="288.9" r="2.9" fill="#000"/>
<circle cx="321.1" cy="288.7" r="2.9" fill="#000"/>
<circle cx="358.5" cy="288.6" r="2.9" fill="#000"/>
<circle cx="395.8" cy="288.4" r="2.9" fill="#000"/>
<circle cx="433.0" cy="288.2" r="2.9" fill="#000"/>
<circle cx="470.1" cy="288.1" r="2.9" fill="#000"/>
<circle cx="507.1" cy="287.9" r="2.9" fill="#000"/>
<circle cx="531.4" cy="271.8" r="2.9" fill="#000"/>
<circle cx="543.1" cy="263.7" r="2.9" fill="#000"/>
<circle cx="554.8" cy="255.7" r="2.9" fill="#000"/>
<circle cx="565.6" cy="247.6" r="2.9" fill="#000"/>
<circle cx="576.6" cy="239.5" r="2.9" fill="#000"/>
<polygon points="221.2,392.0 518.8,392.0 575.7,351.6 552.1,343.5 540.5,351.6 515.2,343.5 503.5,351.6 478.1,343.5 466.4,351.6 441.0,343.5 429.3,351.6 403.8,343.5 392.1,351.6 366.4,343.5 354.7,351.6 328.9,343.5 317.2,351.6 291.4,343.5" fill="#f2e8a0"/>
<polygon points="258.8,392.0 232.9,383.9 270.4,383.9" fill="#f3eed0"/>
<polygon points="296.2,392.0 270.4,383.9 307.9,383.9" fill="#f3eed0"/>
<polygon points="333.6,392.0 307.9,383.9 345.2,383.9" fill="#f3eed0"/>
<polygon points="370.8,392.0 345.2,383.9 382.5,383.9" fill="#f3eed0"/>
<polygon points="407.9,392.0 382.5,383.9 419.6,383.9" fill="#f3eed0"/>
<polygon points="445.0,392.0 419.6,383.9 456.7,383.9" fill="#f3eed0"/>
<polygon points="482.0,392.0 456.7,383.9 493.7,383.9" fill="#f3eed0"/>
<polygon points="518.8,392.0 493.7,383.9 530.5,383.9" fill="#f3eed0"/>
<polygon points="270.4,383.9 244.6,375.8 282.1,375.8" fill="#f3eed0"/>
<polygon points="307.9,383.9 282.1,375.8 319.6,375.8" fill="#f3eed0"/>
<polygon points="345.2,383.9 319.6,375.8 356.9,375.8" fill="#f3eed0"/>
<polygon points="382.5,383.9 356.9,375.8 394.2,375.8" fill="#f3eed0"/>
<polygon points="419.6,383.9 394.2,375.8 431.3,375.8" fill="#f3eed0"/>
<polygon points="456.7,383.9 431.3,375.8 468.4,375.8" fill="#f3eed0"/>
<polygon points="493.7,383.9 468.4,375.8 505.4,375.8" fill="#f3eed0"/>
<polygon points="530.5,383.9 505.4,375.8 542.2,375.8" fill="#f3eed0"/>
<polygon points="282.1,375.8 256.3,367.8 293.9,367.8" fill="#f3eed0"/>
<polygon points="319.6,375.8 293.9,367.8 331.3,367.8" fill="#f3eed0"/>
<polygon points="356.9,375.8 331.3,367.8 368.6,367.8" fill="#f3eed0"/>
<polygon points="394.2,375.8 368.6,367.8 405.9,367.8" fill="#f3eed0"/>
<polygon points="431.3,375.8 405.9,367.8 443.0,367.8" fill="#f3eed0"/>
<polygon points="468.4,375.8 443.0,367.8 480.1,367.8" fill="#f3eed0"/>
<polygon points="505.4,375.8 480.1,367.8 517.1,367.8" fill="#f3eed0"/>
<polygon points="542.2,375.8 517.1,367.8 553.9,367.8" fill="#f3eed0"/>
<polygon points="293.9,367.8 268.0,359.7 305.6,359.7" fill="#f3eed0"/>
<polygon points="331.3,367.8 305.6,359.7 343.0,359.7" fill="#f3eed0"/>
<polygon points="368.6,367.8 343.0,359.7 380.4,359.7" fill="#f3eed0"/>
<polygon points="405.9,367.8 380.4,359.7 417.6,359.7" fill="#f3eed0"/>
<polygon points="443.0,367.8 417.6,359.7 454.8,359.7" fill="#f3eed0"/>
<polygon points="480.1,367.8 454.8,359.7 491.8,359.7" fill="#f3eed0"/>
<polygon points="517.1,367.8 491.8,359.7 528.8,359.7" fill="#f3eed0"/>
<polygon points="553.9,367.8 528.8,359.7 564.7,359.7" fill="#f3eed0"/>
<polygon points="305.6,359.7 279.7,351.6 317.2,351.6" fill="#f3eed0"/>
<polygon points="343.0,359.7 317.2,351.6 354.7,351.6" fill="#f3eed0"/>
<polygon points="380.4,359.7 354.7,351.6 392.1,351.6" fill="#f3eed0"/>
<polygon points="417.6,359.7 392.1,351.6 429.3,351.6" fill="#f3eed0"/>
<polygon points="454.8,359.7 429.3,351.6 466.4,351.6" fill="#f3eed0"/>
<polygon points="491.8,359.7 466.4,351.6 503.5,351.6" fill="#f3eed0"/>
<polygon points="528.8,359.7 503.5,351.6 540.5,351.6" fill="#f3eed0"/>
<polygon points="564.7,359.7 540.5,351.6 575.7,351.6" fill="#f3eed0"/>
<line x1="221.2" y1="392.0" x2="291.4" y2="343.5" stroke="#a49ee0" stroke-width="1.7"/>
<line x1="258.8" y1="392.0" x2="328.9" y2="343.5" stroke="#b8b2d2" stroke-width="1.7"/>
<line x1="296.2" y1="392.0" x2="366.4" y2="343.5" stroke="#b8b2d2" stroke-width="1.7"/>
<line x1="333.6" y1="392.0" x2="403.8" y2="343.5" stroke="#b8b2d2" stroke-width="1.7"/>
<line x1="370.8" y1="392.0" x2="441.0" y2="343.5" stroke="#b8b2d2" stroke-width="1.7"/>
<line x1="407.9" y1="392.0" x2="478.1" y2="343.5" stroke="#b8b2d2" stroke-width="1.7"/>
<line x1="445.0" y1="392.0" x2="515.2" y2="343.5" stroke="#b8b2d2" stroke-width="1.7"/>
<line x1="482.0" y1="392.0" x2="552.1" y2="343.5" stroke="#b8b2d2" stroke-width="1.7"/>
<line x1="518.8" y1="392.0" x2="575.7" y2="351.6" stroke="#b8b2d2" stroke-width="1.7"/>
<line x1="232.9" y1="383.9" x2="258.8" y2="392.0" stroke="#a49ee0" stroke-width="1.8"/>
<line x1="244.6" y1="375.8" x2="296.2" y2="392.0" stroke="#a49ee0" stroke-width="1.8"/>
<line x1="256.3" y1="367.8" x2="333.6" y2="392.0" stroke="#a49ee0" stroke-width="1.8"/>
<line x1="268.0" y1="359.7" x2="370.8" y2="392.0" stroke="#a49ee0" stroke-width="1.8"/>
<line x1="279.7" y1="351.6" x2="407.9" y2="392.0" stroke="#a49ee0" stroke-width="1.8"/>
<line x1="291.4" y1="343.5" x2="445.0" y2="392.0" stroke="#a49ee0" stroke-width="1.8"/>
<line x1="328.9" y1="343.5" x2="482.0" y2="392.0" stroke="#a49ee0" stroke-width="1.8"/>
<line x1="366.4" y1="343.5" x2="518.8" y2="392.0" stroke="#a49ee0" stroke-width="1.8"/>
<line x1="403.8" y1="343.5" x2="530.5" y2="383.9" stroke="#a49ee0" stroke-width="1.8"/>
<line x1="441.0" y1="343.5" x2="542.2" y2="375.8" stroke="#a49ee0" stroke-width="1.8"/>
<line x1="478.1" y1="343.5" x2="553.9" y2="367.8" stroke="#a49ee0" stroke-width="1.8"/>
<line x1="515.2" y1="343.5" x2="564.7" y2="359.7" stroke="#a49ee0" stroke-width="1.8"/>
<line x1="552.1" y1="343.5" x2="575.7" y2="351.6" stroke="#a49ee0" stroke-width="1.8"/>
<line x1="221.2" y1="392.0" x2="518.8" y2="392.0" stroke="#a49ee0" stroke-width="1.9"/>
<line x1="232.9" y1="383.9" x2="530.5" y2="383.9" stroke="#a49ee0" stroke-width="1.9"/>
<line x1="244.6" y1="375.8" x2="542.2" y2="375.8" stroke="#a49ee0" stroke-width="1.9"/>
<line x1="256.3" y1="367.8" x2="553.9" y2="367.8" stroke="#a49ee0" stroke-width="1.9"/>
<line x1="268.0" y1="359.7" x2="564.7" y2="359.7" stroke="#a49ee0" stroke-width="1.9"/>
<line x1="279.7" y1="351.6" x2="575.7" y2="351.6" stroke="#a49ee0" stroke-width="1.9"/>
<polygon points="221.2,392.0 220.4,418.9 245.7,427.2" fill="#f0b02a"/>
<polygon points="258.8,392.0 245.7,427.2 258.1,418.8" fill="#f0b02a"/>
<polygon points="221.2,392.0 258.8,392.0 245.7,427.2" fill="#f8f1c6"/>
<circle cx="241.3" cy="404.3" r="5.6" fill="#837432" stroke="#a89a60" stroke-width="0.8"/>
<polygon points="258.8,392.0 258.1,418.8 283.3,427.1" fill="#f0b02a"/>
<polygon points="296.2,392.0 283.3,427.1 295.7,418.7" fill="#f0b02a"/>
<polygon points="258.8,392.0 296.2,392.0 283.3,427.1" fill="#f8f1c6"/>
<circle cx="278.8" cy="404.3" r="5.6" fill="#837432" stroke="#a89a60" stroke-width="0.8"/>
<polygon points="296.2,392.0 295.7,418.7 320.8,426.9" fill="#f0b02a"/>
<polygon points="333.6,392.0 320.8,426.9 333.3,418.6" fill="#f0b02a"/>
<polygon points="296.2,392.0 333.6,392.0 320.8,426.9" fill="#f8f1c6"/>
<circle cx="316.2" cy="404.2" r="5.6" fill="#837432" stroke="#a89a60" stroke-width="0.8"/>
<polygon points="333.6,392.0 333.3,418.6 358.2,426.8" fill="#f0b02a"/>
<polygon points="370.8,392.0 358.2,426.8 370.7,418.5" fill="#f0b02a"/>
<polygon points="333.6,392.0 370.8,392.0 358.2,426.8" fill="#f8f1c6"/>
<circle cx="353.6" cy="404.2" r="5.6" fill="#837432" stroke="#a89a60" stroke-width="0.8"/>
<polygon points="370.8,392.0 370.7,418.5 395.5,426.6" fill="#f0b02a"/>
<polygon points="407.9,392.0 395.5,426.6 408.0,418.4" fill="#f0b02a"/>
<polygon points="370.8,392.0 407.9,392.0 395.5,426.6" fill="#f8f1c6"/>
<circle cx="390.8" cy="404.1" r="5.6" fill="#837432" stroke="#a89a60" stroke-width="0.8"/>
<polygon points="407.9,392.0 408.0,418.4 432.7,426.4" fill="#f0b02a"/>
<polygon points="445.0,392.0 432.7,426.4 445.2,418.3" fill="#f0b02a"/>
<polygon points="407.9,392.0 445.0,392.0 432.7,426.4" fill="#f8f1c6"/>
<circle cx="427.9" cy="404.1" r="5.6" fill="#837432" stroke="#a89a60" stroke-width="0.8"/>
<polygon points="445.0,392.0 445.2,418.3 469.8,426.3" fill="#f0b02a"/>
<polygon points="482.0,392.0 469.8,426.3 482.3,418.2" fill="#f0b02a"/>
<polygon points="445.0,392.0 482.0,392.0 469.8,426.3" fill="#f8f1c6"/>
<circle cx="465.0" cy="404.0" r="5.6" fill="#837432" stroke="#a89a60" stroke-width="0.8"/>
<polygon points="482.0,392.0 482.3,418.2 506.8,426.1" fill="#f0b02a"/>
<polygon points="518.8,392.0 506.8,426.1 519.4,418.1" fill="#f0b02a"/>
<polygon points="482.0,392.0 518.8,392.0 506.8,426.1" fill="#f3e6b4"/>
<polygon points="518.8,392.0 530.5,383.9 519.4,418.1" fill="#eee8d6"/>
<polygon points="530.5,383.9 519.4,418.1 531.1,410.0" fill="#f0b02a"/>
<polygon points="530.5,383.9 542.2,375.8 531.1,410.0" fill="#eee8d6"/>
<polygon points="542.2,375.8 531.1,410.0 542.8,401.9" fill="#f0b02a"/>
<polygon points="542.2,375.8 553.9,367.8 542.8,401.9" fill="#eee8d6"/>
<polygon points="553.9,367.8 542.8,401.9 554.5,393.9" fill="#f0b02a"/>
<polygon points="553.9,367.8 564.7,359.7 554.5,393.9" fill="#eee8d6"/>
<polygon points="564.7,359.7 554.5,393.9 565.3,385.8" fill="#f0b02a"/>
<polygon points="564.7,359.7 575.7,351.6 565.3,385.8" fill="#eee8d6"/>
<polygon points="575.7,351.6 565.3,385.8 576.3,377.7" fill="#f0b02a"/>
<line x1="221.2" y1="392.0" x2="518.8" y2="392.0" stroke="#a49ee0" stroke-width="2.0"/>
<line x1="221.2" y1="392.0" x2="220.4" y2="418.9" stroke="#a49ee0" stroke-width="1.9"/>
<line x1="258.8" y1="392.0" x2="258.1" y2="418.8" stroke="#a49ee0" stroke-width="1.9"/>
<line x1="296.2" y1="392.0" x2="295.7" y2="418.7" stroke="#a49ee0" stroke-width="1.9"/>
<line x1="333.6" y1="392.0" x2="333.3" y2="418.6" stroke="#a49ee0" stroke-width="1.9"/>
<line x1="370.8" y1="392.0" x2="370.7" y2="418.5" stroke="#a49ee0" stroke-width="1.9"/>
<line x1="407.9" y1="392.0" x2="408.0" y2="418.4" stroke="#a49ee0" stroke-width="1.9"/>
<line x1="445.0" y1="392.0" x2="445.2" y2="418.3" stroke="#a49ee0" stroke-width="1.9"/>
<line x1="482.0" y1="392.0" x2="482.3" y2="418.2" stroke="#a49ee0" stroke-width="1.9"/>
<line x1="518.8" y1="392.0" x2="519.4" y2="418.1" stroke="#a49ee0" stroke-width="1.9"/>
<line x1="221.2" y1="392.0" x2="245.7" y2="427.2" stroke="#a49ee0" stroke-width="1.9"/>
<line x1="245.7" y1="427.2" x2="258.8" y2="392.0" stroke="#a49ee0" stroke-width="1.9"/>
<line x1="220.4" y1="418.9" x2="245.7" y2="427.2" stroke="#a49ee0" stroke-width="1.9"/>
<line x1="245.7" y1="427.2" x2="258.1" y2="418.8" stroke="#a49ee0" stroke-width="1.9"/>
<line x1="258.8" y1="392.0" x2="283.3" y2="427.1" stroke="#a49ee0" stroke-width="1.9"/>
<line x1="283.3" y1="427.1" x2="296.2" y2="392.0" stroke="#a49ee0" stroke-width="1.9"/>
<line x1="258.1" y1="418.8" x2="283.3" y2="427.1" stroke="#a49ee0" stroke-width="1.9"/>
<line x1="283.3" y1="427.1" x2="295.7" y2="418.7" stroke="#a49ee0" stroke-width="1.9"/>
<line x1="296.2" y1="392.0" x2="320.8" y2="426.9" stroke="#a49ee0" stroke-width="1.9"/>
<line x1="320.8" y1="426.9" x2="333.6" y2="392.0" stroke="#a49ee0" stroke-width="1.9"/>
<line x1="295.7" y1="418.7" x2="320.8" y2="426.9" stroke="#a49ee0" stroke-width="1.9"/>
<line x1="320.8" y1="426.9" x2="333.3" y2="418.6" stroke="#a49ee0" stroke-width="1.9"/>
<line x1="333.6" y1="392.0" x2="358.2" y2="426.8" stroke="#a49ee0" stroke-width="1.9"/>
<line x1="358.2" y1="426.8" x2="370.8" y2="392.0" stroke="#a49ee0" stroke-width="1.9"/>
<line x1="333.3" y1="418.6" x2="358.2" y2="426.8" stroke="#a49ee0" stroke-width="1.9"/>
<line x1="358.2" y1="426.8" x2="370.7" y2="418.5" stroke="#a49ee0" stroke-width="1.9"/>
<line x1="370.8" y1="392.0" x2="395.5" y2="426.6" stroke="#a49ee0" stroke-width="1.9"/>
<line x1="395.5" y1="426.6" x2="407.9" y2="392.0" stroke="#a49ee0" stroke-width="1.9"/>
<line x1="370.7" y1="418.5" x2="395.5" y2="426.6" stroke="#a49ee0" stroke-width="1.9"/>
<line x1="395.5" y1="426.6" x2="408.0" y2="418.4" stroke="#a49ee0" stroke-width="1.9"/>
<line x1="407.9" y1="392.0" x2="432.7" y2="426.4" stroke="#a49ee0" stroke-width="1.9"/>
<line x1="432.7" y1="426.4" x2="445.0" y2="392.0" stroke="#a49ee0" stroke-width="1.9"/>
<line x1="408.0" y1="418.4" x2="432.7" y2="426.4" stroke="#a49ee0" stroke-width="1.9"/>
<line x1="432.7" y1="426.4" x2="445.2" y2="418.3" stroke="#a49ee0" stroke-width="1.9"/>
<line x1="445.0" y1="392.0" x2="469.8" y2="426.3" stroke="#a49ee0" stroke-width="1.9"/>
<line x1="469.8" y1="426.3" x2="482.0" y2="392.0" stroke="#a49ee0" stroke-width="1.9"/>
<line x1="445.2" y1="418.3" x2="469.8" y2="426.3" stroke="#a49ee0" stroke-width="1.9"/>
<line x1="469.8" y1="426.3" x2="482.3" y2="418.2" stroke="#a49ee0" stroke-width="1.9"/>
<line x1="482.0" y1="392.0" x2="506.8" y2="426.1" stroke="#a49ee0" stroke-width="1.9"/>
<line x1="506.8" y1="426.1" x2="518.8" y2="392.0" stroke="#a49ee0" stroke-width="1.9"/>
<line x1="482.3" y1="418.2" x2="506.8" y2="426.1" stroke="#a49ee0" stroke-width="1.9"/>
<line x1="506.8" y1="426.1" x2="519.4" y2="418.1" stroke="#a49ee0" stroke-width="1.9"/>
<line x1="530.5" y1="383.9" x2="519.4" y2="418.1" stroke="#a49ee0" stroke-width="1.9"/>
<line x1="519.4" y1="418.1" x2="531.1" y2="410.0" stroke="#a49ee0" stroke-width="1.9"/>
<line x1="530.5" y1="383.9" x2="531.1" y2="410.0" stroke="#a49ee0" stroke-width="1.9"/>
<line x1="542.2" y1="375.8" x2="531.1" y2="410.0" stroke="#a49ee0" stroke-width="1.9"/>
<line x1="531.1" y1="410.0" x2="542.8" y2="401.9" stroke="#a49ee0" stroke-width="1.9"/>
<line x1="542.2" y1="375.8" x2="542.8" y2="401.9" stroke="#a49ee0" stroke-width="1.9"/>
<line x1="553.9" y1="367.8" x2="542.8" y2="401.9" stroke="#a49ee0" stroke-width="1.9"/>
<line x1="542.8" y1="401.9" x2="554.5" y2="393.9" stroke="#a49ee0" stroke-width="1.9"/>
<line x1="553.9" y1="367.8" x2="554.5" y2="393.9" stroke="#a49ee0" stroke-width="1.9"/>
<line x1="564.7" y1="359.7" x2="554.5" y2="393.9" stroke="#a49ee0" stroke-width="1.9"/>
<line x1="554.5" y1="393.9" x2="565.3" y2="385.8" stroke="#a49ee0" stroke-width="1.9"/>
<line x1="564.7" y1="359.7" x2="565.3" y2="385.8" stroke="#a49ee0" stroke-width="1.9"/>
<line x1="575.7" y1="351.6" x2="565.3" y2="385.8" stroke="#a49ee0" stroke-width="1.9"/>
<line x1="565.3" y1="385.8" x2="576.3" y2="377.7" stroke="#a49ee0" stroke-width="1.9"/>
<line x1="575.7" y1="351.6" x2="576.3" y2="377.7" stroke="#a49ee0" stroke-width="1.9"/>
<line x1="500.4" y1="404.4" x2="482.0" y2="392.0" stroke="#857a34" stroke-width="1.3" stroke-dasharray="2.5,2"/>
<line x1="500.4" y1="404.4" x2="518.8" y2="392.0" stroke="#857a34" stroke-width="1.3" stroke-dasharray="2.5,2"/>
<line x1="500.4" y1="404.4" x2="493.7" y2="383.9" stroke="#857a34" stroke-width="1.3" stroke-dasharray="2.5,2"/>
<line x1="500.4" y1="404.4" x2="482.3" y2="418.2" stroke="#857a34" stroke-width="1.3" stroke-dasharray="2.5,2"/>
<line x1="500.4" y1="404.4" x2="519.4" y2="418.1" stroke="#857a34" stroke-width="1.3" stroke-dasharray="2.5,2"/>
<line x1="500.4" y1="404.4" x2="506.8" y2="426.1" stroke="#857a34" stroke-width="1.3" stroke-dasharray="2.5,2"/>
<circle cx="500.4" cy="404.4" r="5.2" fill="#837432"/>
<circle cx="221.2" cy="392.0" r="2.9" fill="#000"/>
<circle cx="258.8" cy="392.0" r="2.9" fill="#000"/>
<circle cx="296.2" cy="392.0" r="2.9" fill="#000"/>
<circle cx="333.6" cy="392.0" r="2.9" fill="#000"/>
<circle cx="370.8" cy="392.0" r="2.9" fill="#000"/>
<circle cx="407.9" cy="392.0" r="2.9" fill="#000"/>
<circle cx="445.0" cy="392.0" r="2.9" fill="#000"/>
<circle cx="482.0" cy="392.0" r="2.9" fill="#000"/>
<circle cx="518.8" cy="392.0" r="2.9" fill="#000"/>
<circle cx="232.9" cy="383.9" r="2.9" fill="#000"/>
<circle cx="270.4" cy="383.9" r="2.9" fill="#000"/>
<circle cx="307.9" cy="383.9" r="2.9" fill="#000"/>
<circle cx="345.2" cy="383.9" r="2.9" fill="#000"/>
<circle cx="382.5" cy="383.9" r="2.9" fill="#000"/>
<circle cx="419.6" cy="383.9" r="2.9" fill="#000"/>
<circle cx="456.7" cy="383.9" r="2.9" fill="#000"/>
<circle cx="493.7" cy="383.9" r="2.9" fill="#000"/>
<circle cx="530.5" cy="383.9" r="2.9" fill="#000"/>
<circle cx="244.6" cy="375.8" r="2.9" fill="#000"/>
<circle cx="282.1" cy="375.8" r="2.9" fill="#000"/>
<circle cx="319.6" cy="375.8" r="2.9" fill="#000"/>
<circle cx="356.9" cy="375.8" r="2.9" fill="#000"/>
<circle cx="394.2" cy="375.8" r="2.9" fill="#000"/>
<circle cx="431.3" cy="375.8" r="2.9" fill="#000"/>
<circle cx="468.4" cy="375.8" r="2.9" fill="#000"/>
<circle cx="505.4" cy="375.8" r="2.9" fill="#000"/>
<circle cx="542.2" cy="375.8" r="2.9" fill="#000"/>
<circle cx="256.3" cy="367.8" r="2.9" fill="#000"/>
<circle cx="293.9" cy="367.8" r="2.9" fill="#000"/>
<circle cx="331.3" cy="367.8" r="2.9" fill="#000"/>
<circle cx="368.6" cy="367.8" r="2.9" fill="#000"/>
<circle cx="405.9" cy="367.8" r="2.9" fill="#000"/>
<circle cx="443.0" cy="367.8" r="2.9" fill="#000"/>
<circle cx="480.1" cy="367.8" r="2.9" fill="#000"/>
<circle cx="517.1" cy="367.8" r="2.9" fill="#000"/>
<circle cx="553.9" cy="367.8" r="2.9" fill="#000"/>
<circle cx="268.0" cy="359.7" r="2.9" fill="#000"/>
<circle cx="305.6" cy="359.7" r="2.9" fill="#000"/>
<circle cx="343.0" cy="359.7" r="2.9" fill="#000"/>
<circle cx="380.4" cy="359.7" r="2.9" fill="#000"/>
<circle cx="417.6" cy="359.7" r="2.9" fill="#000"/>
<circle cx="454.8" cy="359.7" r="2.9" fill="#000"/>
<circle cx="491.8" cy="359.7" r="2.9" fill="#000"/>
<circle cx="528.8" cy="359.7" r="2.9" fill="#000"/>
<circle cx="564.7" cy="359.7" r="2.9" fill="#000"/>
<circle cx="279.7" cy="351.6" r="2.9" fill="#000"/>
<circle cx="317.2" cy="351.6" r="2.9" fill="#000"/>
<circle cx="354.7" cy="351.6" r="2.9" fill="#000"/>
<circle cx="392.1" cy="351.6" r="2.9" fill="#000"/>
<circle cx="429.3" cy="351.6" r="2.9" fill="#000"/>
<circle cx="466.4" cy="351.6" r="2.9" fill="#000"/>
<circle cx="503.5" cy="351.6" r="2.9" fill="#000"/>
<circle cx="540.5" cy="351.6" r="2.9" fill="#000"/>
<circle cx="575.7" cy="351.6" r="2.9" fill="#000"/>
<circle cx="291.4" cy="343.5" r="2.9" fill="#000"/>
<circle cx="328.9" cy="343.5" r="2.9" fill="#000"/>
<circle cx="366.4" cy="343.5" r="2.9" fill="#000"/>
<circle cx="403.8" cy="343.5" r="2.9" fill="#000"/>
<circle cx="441.0" cy="343.5" r="2.9" fill="#000"/>
<circle cx="478.1" cy="343.5" r="2.9" fill="#000"/>
<circle cx="515.2" cy="343.5" r="2.9" fill="#000"/>
<circle cx="552.1" cy="343.5" r="2.9" fill="#000"/>
<circle cx="220.4" cy="418.9" r="2.9" fill="#000"/>
<circle cx="258.1" cy="418.8" r="2.9" fill="#000"/>
<circle cx="295.7" cy="418.7" r="2.9" fill="#000"/>
<circle cx="333.3" cy="418.6" r="2.9" fill="#000"/>
<circle cx="370.7" cy="418.5" r="2.9" fill="#000"/>
<circle cx="408.0" cy="418.4" r="2.9" fill="#000"/>
<circle cx="445.2" cy="418.3" r="2.9" fill="#000"/>
<circle cx="482.3" cy="418.2" r="2.9" fill="#000"/>
<circle cx="519.4" cy="418.1" r="2.9" fill="#000"/>
<circle cx="245.7" cy="427.2" r="2.9" fill="#000"/>
<circle cx="283.3" cy="427.1" r="2.9" fill="#000"/>
<circle cx="320.8" cy="426.9" r="2.9" fill="#000"/>
<circle cx="358.2" cy="426.8" r="2.9" fill="#000"/>
<circle cx="395.5" cy="426.6" r="2.9" fill="#000"/>
<circle cx="432.7" cy="426.4" r="2.9" fill="#000"/>
<circle cx="469.8" cy="426.3" r="2.9" fill="#000"/>
<circle cx="506.8" cy="426.1" r="2.9" fill="#000"/>
<circle cx="531.1" cy="410.0" r="2.9" fill="#000"/>
<circle cx="542.8" cy="401.9" r="2.9" fill="#000"/>
<circle cx="554.5" cy="393.9" r="2.9" fill="#000"/>
<circle cx="565.3" cy="385.8" r="2.9" fill="#000"/>
<circle cx="576.3" cy="377.7" r="2.9" fill="#000"/>
<circle cx="251.7" cy="180.1" r="11.4" fill="url(#gc)"/>
<circle cx="333.2" cy="181.9" r="9.4" fill="url(#gr)"/>
<circle cx="412" cy="178.9" r="2.5" fill="#000"/>
<circle cx="479" cy="174.5" r="10.2" fill="url(#gt)"/>
<circle cx="542.9" cy="171.8" r="11.9" fill="url(#gy)"/>
<circle cx="253.7" cy="320.1" r="12.1" fill="url(#gy)"/>
<circle cx="339.3" cy="320.7" r="10.5" fill="url(#gt)"/>
<circle cx="400.3" cy="314.8" r="2.5" fill="#000"/>
<circle cx="469.3" cy="313.9" r="11.6" fill="url(#gc)"/>
<circle cx="546.3" cy="307.4" r="9.3" fill="url(#gr)"/>
<circle cx="44.3" cy="188.2" r="11.5" fill="url(#gc)"/>
<circle cx="46" cy="311.8" r="11.9" fill="url(#gy)"/>
<circle cx="201.8" cy="518.3" r="9.0" fill="url(#gr)"/>
<circle cx="276.2" cy="519.1" r="2.5" fill="#000"/>
<circle cx="361" cy="517.4" r="11.4" fill="url(#gc)"/>
<circle cx="447.3" cy="517.5" r="11.8" fill="url(#gy)"/>
<circle cx="534.6" cy="520" r="10.5" fill="url(#gt)"/>
<circle cx="560.8" cy="456" r="6.1" fill="url(#go)"/>
<path d="M77.3,198 C86,199 88.5,204 88.5,214 L88.5,240 C88.5,248 93,252 101,252.5 C93,253 88.5,257 88.5,265 L88.5,292 C88.5,302 86,305 77.3,305.7" fill="none" stroke="#000" stroke-width="2.3"/>
<path d="M589.2,77.9 C598,78.5 600.5,85 600.5,95 L600.5,135 C600.5,143 605,147 614,147.4 C605,148 600.5,152 600.5,160 L600.5,196 C600.5,206 598,212.5 589.2,213" fill="none" stroke="#000" stroke-width="2.8"/>
<path d="M589,236 C598,236.5 600.3,243 600.3,252 L600.3,279 C600.3,286 605,290 613.7,290.5 C605,291 600.3,295 600.3,302 L600.3,330 C600.3,339 598,343 589,343.2" fill="none" stroke="#000" stroke-width="2.8"/>
<line x1="111.6" y1="252.4" x2="204.0" y2="186.0" stroke="#000" stroke-width="3.0"/><polygon points="215.0,178.1 206.1,192.3 204.0,186.0 198.7,182.0" fill="#000"/>
<line x1="111.6" y1="259.7" x2="216.4" y2="335.2" stroke="#000" stroke-width="3.2"/><polygon points="227.5,343.2 211.1,339.1 216.4,335.2 218.4,329.0" fill="#000"/>
<line x1="622.8" y1="41.5" x2="586" y2="60" stroke="#000" stroke-width="2.9"/>
<polygon points="574.2,66 582.6,55.4 588.5,58.5 594.9,62.1" fill="#000"/>
<line x1="504.1" y1="412.0" x2="541.7" y2="445.8" stroke="#000" stroke-width="2.7"/><polygon points="548.4,451.8 536.9,448.2 541.7,445.8 543.6,440.7" fill="#000"/>
<text x="198.40" y="28.90" font-family="Liberation Sans, sans-serif" font-size="26.83" font-weight="bold" font-style="italic" textLength="134.77" lengthAdjust="spacingAndGlyphs" stroke="#000" stroke-width="0.25">Brucite-like</text>
<text x="341.80" y="28.50" font-family="Liberation Sans, sans-serif" font-size="26.30" font-weight="bold" font-style="italic" textLength="7.22" lengthAdjust="spacingAndGlyphs" stroke="#000" stroke-width="0.25">[</text>
<text x="350.60" y="28.50" font-family="Liberation Sans, sans-serif" font-size="25.02" font-weight="bold" font-style="italic" textLength="25.45" lengthAdjust="spacingAndGlyphs" stroke="#000" stroke-width="0.25">M</text>
<text x="376.80" y="36.10" font-family="Liberation Sans, sans-serif" font-size="14.44" font-weight="bold" font-style="italic" textLength="24.00" lengthAdjust="spacingAndGlyphs" stroke="#000" stroke-width="0.35">1-x</text>
<text x="401.80" y="20.10" font-family="Liberation Sans, sans-serif" font-size="10.77" font-weight="bold" font-style="italic" textLength="15.30" lengthAdjust="spacingAndGlyphs" stroke="#000" stroke-width="0.35">2+</text>
<text x="420.20" y="28.50" font-family="Liberation Sans, sans-serif" font-size="25.02" font-weight="bold" font-style="italic" textLength="25.46" lengthAdjust="spacingAndGlyphs" stroke="#000" stroke-width="0.25">M</text>
<text x="446.60" y="36.10" font-family="Liberation Sans, sans-serif" font-size="16.00" font-weight="bold" font-style="italic" textLength="7.19" lengthAdjust="spacingAndGlyphs" stroke="#000" stroke-width="0.35">x</text>
<text x="456.80" y="20.10" font-family="Liberation Sans, sans-serif" font-size="10.77" font-weight="bold" font-style="italic" textLength="17.90" lengthAdjust="spacingAndGlyphs" stroke="#000" stroke-width="0.35">3+</text>
<text x="481.20" y="28.90" font-family="Liberation Sans, sans-serif" font-size="27.04" font-weight="bold" font-style="italic" textLength="53.02" lengthAdjust="spacingAndGlyphs" stroke="#000" stroke-width="0.25">(OH)</text>
<text x="536.20" y="36.10" font-family="Liberation Sans, sans-serif" font-size="14.49" font-weight="bold" font-style="italic" textLength="8.29" lengthAdjust="spacingAndGlyphs" stroke="#000" stroke-width="0.35">2</text>
<text x="548.80" y="28.90" font-family="Liberation Sans, sans-serif" font-size="27.04" font-weight="bold" font-style="italic" textLength="6.09" lengthAdjust="spacingAndGlyphs" stroke="#000" stroke-width="0.25">]</text>
<text x="560.00" y="19.70" font-family="Liberation Sans, sans-serif" font-size="11.68" font-weight="bold" font-style="italic" textLength="17.23" lengthAdjust="spacingAndGlyphs" stroke="#000" stroke-width="0.35">x+</text>
<text x="586.20" y="29.30" font-family="Liberation Sans, sans-serif" font-size="26.30" font-weight="bold" font-style="italic" textLength="60.43" lengthAdjust="spacingAndGlyphs" stroke="#000" stroke-width="0.25">layer</text>
<text x="650.00" y="130.00" font-family="Liberation Sans, sans-serif" font-size="26.92" font-weight="bold" font-style="normal" textLength="64.72" lengthAdjust="spacingAndGlyphs" stroke="#000" stroke-width="0.25">basal</text>
<text x="622.20" y="164.40" font-family="Liberation Sans, sans-serif" font-size="25.00" font-weight="bold" font-style="normal" textLength="99.89" lengthAdjust="spacingAndGlyphs" stroke="#000" stroke-width="0.25">spacing,</text>
<text x="726.60" y="164.80" font-family="Liberation Sans, sans-serif" font-size="26.92" font-weight="bold" font-style="italic" textLength="16.09" lengthAdjust="spacingAndGlyphs" stroke="#000" stroke-width="0.25">d</text>
<text x="621.00" y="287.20" font-family="Liberation Sans, sans-serif" font-size="26.91" font-weight="bold" font-style="italic" textLength="155.80" lengthAdjust="spacingAndGlyphs" stroke="#000" stroke-width="0.25">interlamellar</text>
<text x="650.40" y="317.20" font-family="Liberation Sans, sans-serif" font-size="26.90" font-weight="bold" font-style="italic" textLength="73.35" lengthAdjust="spacingAndGlyphs" stroke="#000" stroke-width="0.25">space,</text>
<text x="732.60" y="319.20" font-family="Liberation Sans, sans-serif" font-size="26.90" font-weight="bold" font-style="italic" textLength="7.36" lengthAdjust="spacingAndGlyphs" stroke="#000" stroke-width="0.25">l</text>
<text x="559.00" y="438.20" font-family="Liberation Sans, sans-serif" font-size="24.04" font-weight="bold" font-style="normal" textLength="27.91" lengthAdjust="spacingAndGlyphs" stroke="#000" stroke-width="0.25">M</text>
<text x="587.00" y="429.60" font-family="Liberation Sans, sans-serif" font-size="15.24" font-weight="bold" font-style="normal" textLength="18.02" lengthAdjust="spacingAndGlyphs" stroke="#000" stroke-width="0.35">2+</text>
<text x="624.80" y="438.20" font-family="Liberation Sans, sans-serif" font-size="24.04" font-weight="bold" font-style="normal" textLength="25.16" lengthAdjust="spacingAndGlyphs" stroke="#000" stroke-width="0.25">M</text>
<text x="649.80" y="429.60" font-family="Liberation Sans, sans-serif" font-size="15.24" font-weight="bold" font-style="normal" textLength="19.14" lengthAdjust="spacingAndGlyphs" stroke="#000" stroke-width="0.35">3+</text>
<text x="677.20" y="438.60" font-family="Liberation Sans, sans-serif" font-size="25.94" font-weight="bold" font-style="italic" textLength="75.22" lengthAdjust="spacingAndGlyphs" stroke="#000" stroke-width="0.25">cation</text>
<text x="6.80" y="378.60" font-family="Liberation Serif, serif" font-size="25.00" font-weight="bold" font-style="normal" textLength="155.11" lengthAdjust="spacing" stroke="#000" stroke-width="0.6" transform="translate(6.80,0) scale(0.86,1) translate(-6.80,0)">Intercalated</text>
<text x="36.80" y="410.50" font-family="Liberation Serif, serif" font-size="25.99" font-weight="bold" font-style="normal" textLength="83.96" lengthAdjust="spacing" stroke="#000" stroke-width="0.6" transform="translate(36.80,0) scale(0.86,1) translate(-36.80,0)">anions</text>
<text x="181.40" y="558.60" font-family="Liberation Serif, serif" font-size="26.19" font-weight="bold" font-style="normal" textLength="18.39" lengthAdjust="spacingAndGlyphs" stroke="#000" stroke-width="0.6">H</text>
<text x="201.00" y="564.30" font-family="Liberation Serif, serif" font-size="17.35" font-weight="bold" font-style="normal" textLength="8.33" lengthAdjust="spacingAndGlyphs" stroke="#000" stroke-width="0.45">2</text>
<text x="209.30" y="559.00" font-family="Liberation Serif, serif" font-size="28.23" font-weight="bold" font-style="normal" textLength="21.93" lengthAdjust="spacingAndGlyphs" stroke="#000" stroke-width="0.6">O</text>
<text x="255.60" y="558.20" font-family="Liberation Serif, serif" font-size="28.23" font-weight="bold" font-style="normal" textLength="39.83" lengthAdjust="spacingAndGlyphs" stroke="#000" stroke-width="0.6">OH</text>
<text x="345.80" y="557.80" font-family="Liberation Serif, serif" font-size="25.96" font-weight="bold" font-style="normal" textLength="24.71" lengthAdjust="spacingAndGlyphs" stroke="#000" stroke-width="0.6">Cl</text>
<text x="420.70" y="557.40" font-family="Liberation Serif, serif" font-size="26.18" font-weight="bold" font-style="normal" textLength="38.03" lengthAdjust="spacingAndGlyphs" stroke="#000" stroke-width="0.6">NO</text>
<text x="458.40" y="564.50" font-family="Liberation Serif, serif" font-size="18.36" font-weight="bold" font-style="normal" textLength="9.74" lengthAdjust="spacingAndGlyphs" stroke="#000" stroke-width="0.45">3</text>
<text x="510.50" y="557.40" font-family="Liberation Serif, serif" font-size="26.18" font-weight="bold" font-style="normal" textLength="39.96" lengthAdjust="spacingAndGlyphs" stroke="#000" stroke-width="0.6">CO</text>
<text x="549.30" y="564.50" font-family="Liberation Serif, serif" font-size="18.36" font-weight="bold" font-style="normal" textLength="9.21" lengthAdjust="spacingAndGlyphs" stroke="#000" stroke-width="0.45">3</text>
<text x="558.90" y="546.80" font-family="Liberation Serif, serif" font-size="15.31" font-weight="bold" font-style="normal" textLength="8.22" lengthAdjust="spacingAndGlyphs" stroke="#000" stroke-width="0.45">2</text>
<line x1="607.0" y1="441.0" x2="615.7" y2="419.0" stroke="#000" stroke-width="3.1"/>
<rect x="297.2" y="540.0" width="6.6" height="2.8" fill="#000"/>
<rect x="371.0" y="539.6" width="6.6" height="2.8" fill="#000"/>
<rect x="470.2" y="539.2" width="6.0" height="2.6" fill="#000"/>
<rect x="566.9" y="538.3" width="8.2" height="2.6" fill="#000"/></g></svg></body></html>
